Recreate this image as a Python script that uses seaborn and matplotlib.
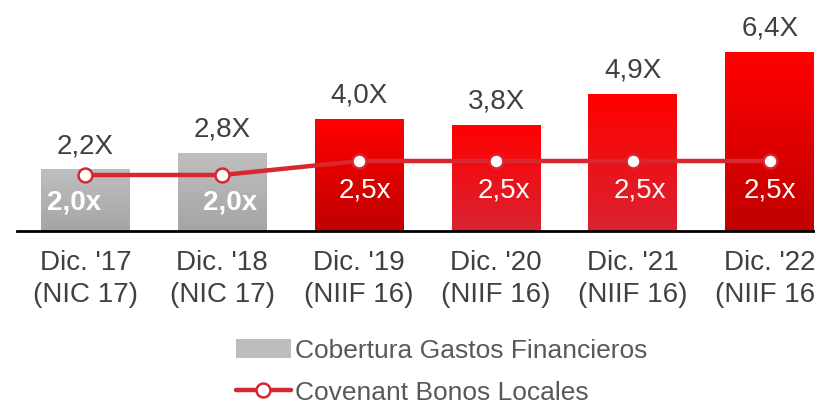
import numpy as np
import pandas as pd
import matplotlib
matplotlib.use("Agg")
import matplotlib.pyplot as plt
import seaborn as sns
from matplotlib.colors import LinearSegmentedColormap
from matplotlib.lines import Line2D
from matplotlib.patches import Patch

# data
periodos = ["Dic. '17\n(NIC 17)", "Dic. '18\n(NIC 17)", "Dic. '19\n(NIIF 16)",
            "Dic. '20\n(NIIF 16)", "Dic. '21\n(NIIF 16)", "Dic. '22\n(NIIF 16)"]
cobertura = [2.2, 2.8, 4.0, 3.8, 4.9, 6.4]
covenant = [2.0, 2.0, 2.5, 2.5, 2.5, 2.5]
etiq_cob = ["2,2X", "2,8X", "4,0X", "3,8X", "4,9X", "6,4X"]
etiq_cov = ["2,0x", "2,0x", "2,5x", "2,5x", "2,5x", "2,5x"]

df = pd.DataFrame({"periodo": periodos, "cobertura": cobertura, "covenant": covenant})

sns.set_theme(style="white")
plt.rcParams["font.family"] = ["Liberation Sans", "DejaVu Sans"]

fig = plt.figure(figsize=(8.15, 4.04), dpi=100)
ax = fig.add_axes([17 / 815, 173 / 404, 1 - 17 / 815, 231 / 404])

sns.barplot(data=df, x="periodo", y="cobertura", color="#bbbbbb", width=0.65,
            saturation=1, ax=ax, zorder=2)

# gradient fills (top color, bottom color)
grad = [("#bfbfbf", "#a5a5a5"), ("#bfbfbf", "#a5a5a5"), ("#ff0000", "#c00000"),
        ("#ff0000", "#d92331"), ("#ff0000", "#d92331"), ("#ff0000", "#c00000")]
for bar, (c_top, c_bot) in zip(ax.patches, grad):
    bar.set_facecolor("none")
    bar.set_edgecolor("none")
    cmap = LinearSegmentedColormap.from_list("g", [c_bot, c_top])
    x0, w, h = bar.get_x(), bar.get_width(), bar.get_height()
    img = ax.imshow(np.linspace(0, 1, 100).reshape(-1, 1), cmap=cmap, origin="lower",
                    extent=[x0, x0 + w, 0, h], aspect="auto", zorder=2)
    img.set_clip_path(bar)

ax.plot(range(len(covenant)), covenant, color="#d9262f", lw=3.2, marker="o", ms=10,
        mfc="white", mec="#d9262f", mew=1.8, zorder=4)

for i, (v, t) in enumerate(zip(cobertura, etiq_cob)):
    ax.text(i, v + 0.36, t, ha="center", va="bottom", fontsize=20, color="#404040")

cov_dx = [-0.08, 0.06, 0.045, 0.06, 0.05, 0.0]
for i, (v, t) in enumerate(zip(covenant, etiq_cov)):
    if i < 2:
        ax.text(i + cov_dx[i], 1.0, t, ha="center", va="center",
                fontsize=20, fontweight="bold", color="white", zorder=5)
    else:
        ax.text(i + cov_dx[i], 1.45, t, ha="center", va="center", fontsize=20,
                color="white", zorder=5)

ax.set_xlim(-0.5, 5.33)
ax.set_ylim(0, 8.25)
ax.set_xlabel("")
ax.set_ylabel("")
ax.set_yticks([])
ax.tick_params(axis="x", length=0, pad=14, labelsize=20, labelcolor="#404040")
for s in ["top", "right", "left"]:
    ax.spines[s].set_visible(False)
ax.spines["bottom"].set_color("black")
ax.spines["bottom"].set_linewidth(2)
ax.set_facecolor("none")
for lbl in ax.get_xticklabels():
    lbl.set_linespacing(1.3)

handles = [Patch(facecolor="#bdbdbd", edgecolor="none"),
           Line2D([], [], color="#d9262f", lw=3.2, marker="o", ms=10, mfc="white",
                  mec="#d9262f", mew=1.8)]
fig.legend(handles, ["Cobertura Gastos Financieros", "Covenant Bonos Locales"],
           loc="upper left", bbox_to_anchor=(225 / 815, 1 - 328 / 404), frameon=False,
           fontsize=19, labelcolor="#595959", handlelength=2.1, handletextpad=0.15,
           labelspacing=0.68, borderaxespad=0)

fig.savefig("out.png", dpi=100)
